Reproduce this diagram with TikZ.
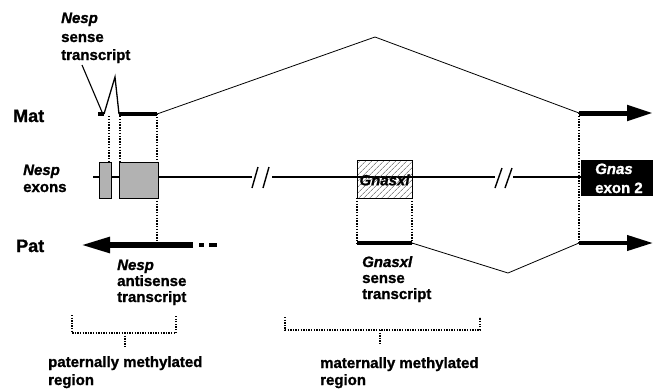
\documentclass[tikz,border=0pt]{standalone}
\usepackage{fontspec}
\setmainfont{Liberation Sans}[BoldFeatures={FakeBold=1.2}, BoldItalicFeatures={FakeBold=1.2}]
\usetikzlibrary{arrows.meta,patterns.meta}

\begin{document}
\begin{tikzpicture}[x=1pt,y=-1pt,
  lbl/.style={font=\fontsize{15}{17}\selectfont\bfseries, inner sep=0pt, anchor=base west},
  ilbl/.style={lbl, font=\fontsize{15}{17}\selectfont\bfseries\itshape},
  big/.style={font=\fontsize{18}{20}\selectfont\bfseries, inner sep=0pt, anchor=base west},
  thin/.style={line width=0.8pt},
  gene/.style={line width=1.6pt},
  bar/.style={line width=4pt},
  guide/.style={line width=1.4pt, dash pattern=on 1.4pt off 1.4pt},
  bracketline/.style={line width=1.2pt, dash pattern=on 1.3pt off 1.3pt},
  exonbox/.style={draw, line width=0.8pt, fill=black!30, inner sep=0pt},
  bigtip/.style={-{Triangle[length=26pt,width=15pt]}},
]
\useasboundingbox (0,0) rectangle (653,389);

% key points of the transcripts
\coordinate (mL) at (98,114);
\coordinate (mA) at (104,114);
\coordinate (mPeak) at (115,77);
\coordinate (mB) at (119,114);
\coordinate (mC) at (157,114);
\coordinate (mTop) at (375,37);
\coordinate (mD) at (579,113);
\coordinate (mEnd) at (653,113);
\coordinate (pD) at (579,243);
\coordinate (pEnd) at (653,243);
\coordinate (pLow) at (508,273);
\coordinate (gxA) at (357,243);
\coordinate (gxB) at (412,243);
\coordinate (aS) at (193,245);
\coordinate (aTip) at (81,245);

% genomic line with breaks
\coordinate (g0) at (93,177);
\coordinate (g1) at (252,177);
\coordinate (g2) at (272,177);
\coordinate (g3) at (495,177);
\coordinate (g4) at (513,177);
\coordinate (g5) at (581,177);
\draw[gene] (g0) -- (g1);
\draw[gene] (g2) -- (g3);
\draw[gene] (g4) -- (g5);
\draw[line width=1.4pt] (252,188) -- (258,167) (263,188) -- (269,167);
\draw[line width=1.4pt] (495,188) -- (502,168) (505,188) -- (512,168);

% vertical guides
\draw[guide] (109,116) -- (109,162);
\draw[guide] (120,116) -- (120,162);
\draw[guide] (mC) -- (157,162);
\draw[guide] (157,198) -- (157,243);
\draw[guide] (357,198) -- (gxA);
\draw[guide] (412,198) -- (gxB);
\draw[guide] (mD) -- (pD);

% exons
\node[exonbox, minimum width=12pt, minimum height=36pt] (ex1) at (105,180) {};
\node[exonbox, minimum width=39pt, minimum height=36pt] (ex2) at (138.5,180) {};
\node[draw, line width=0.8pt, inner sep=0pt, minimum width=55pt, minimum height=38pt,
      pattern={Lines[angle=45,distance=4pt,line width=0.5pt]}, pattern color=black!70]
      (gx) at (384.5,179) {};
\node[inner sep=0pt, font=\fontsize{15}{17}\selectfont\bfseries\itshape] (gxt) at (384.5,180) {Gnasxl};
\fill[black] (581,160) rectangle (653,196);
\node (gn) [ilbl, text=white] at (595,174) {Gnas};
\node (gnb) [lbl, text=white] at (595,193) {exon 2};

% maternal allele
\draw[bar] (mL) -- (mA);
\draw[line width=1.3pt] (mA) -- (mPeak) -- (mB);
\draw[bar] (mB) -- (mC);
\draw[thin] (mC) -- (mTop) -- (mD);
\draw[line width=5pt, bigtip] (mD) -- (mEnd);

% paternal allele
\draw[line width=5.5pt, -{Triangle[length=29pt,width=15pt]}] (aS) -- (aTip);
\draw[bar] (199,245) -- (204,245);
\draw[bar] (209,245) -- (217,245);
\draw[bar] (gxA) -- (gxB);
\draw[thin] (gxB) -- (pLow) -- (pD);
\draw[line width=4pt, bigtip] (pD) -- (pEnd);

% leader to the sense transcript
\coordinate (ld0) at (82,65);
\coordinate (ld1) at (102,112);
\draw[line width=1.1pt] (ld0) -- (ld1);

% methylated region brackets
\draw[bracketline] (72,315) -- (72,333) -- (176,333) -- (176,315);
\draw[bracketline] (125,333) -- (125,347);
\draw[bracketline] (285,317) -- (285,330) -- (480,330) -- (480,317);
\draw[bracketline] (380,330) -- (380,345);

% labels
\node (t1) [ilbl] at (61,23) {Nesp};
\node (t2) [lbl] at (61,42) {sense};
\node (t3) [lbl] at (61,60) {transcript};
\node (mat) [big] at (13,122) {Mat};
\node (pat) [big] at (16,252) {Pat};
\node (e1) [ilbl] at (23,175) {Nesp};
\node (e2) [lbl] at (23,192) {exons};
\node (a1) [ilbl] at (117,270) {Nesp};
\node (a2) [lbl] at (117,286) {antisense};
\node (a3) [lbl] at (117,302) {transcript};
\node (s1) [ilbl] at (362,267) {Gnasxl};
\node (s2) [lbl] at (362,283) {sense};
\node (s3) [lbl] at (362,299) {transcript};
\node (r1) [lbl] at (48,367) {paternally methylated};
\node (r2) [lbl] at (48,385) {region};
\node (r3) [lbl] at (320,368) {maternally methylated};
\node (r4) [lbl] at (320,385) {region};
\end{tikzpicture}
\end{document}
